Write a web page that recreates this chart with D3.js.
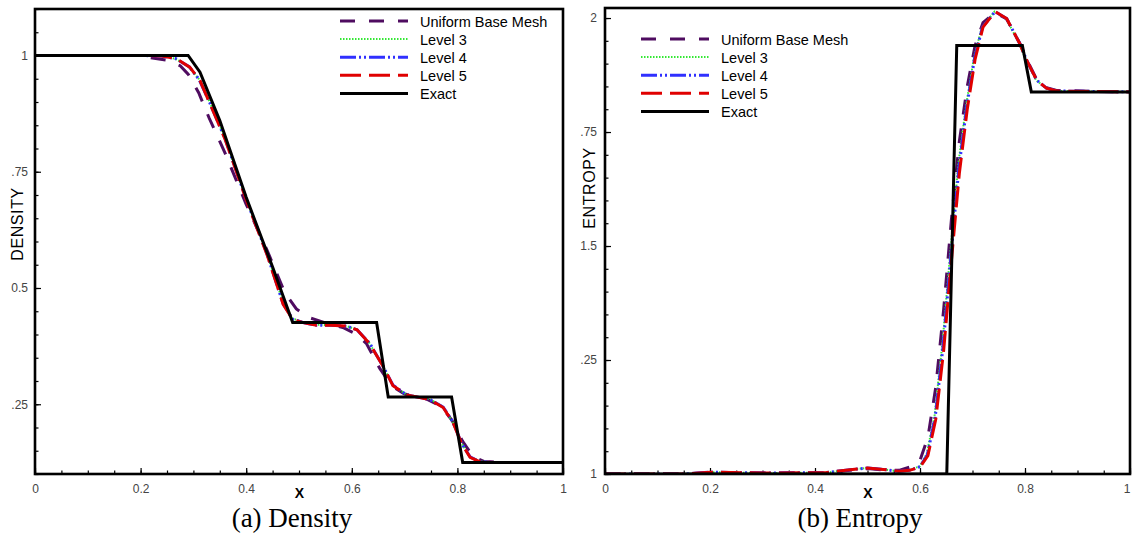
<!DOCTYPE html>
<html>
<head>
<meta charset="utf-8">
<script src="https://cdn.jsdelivr.net/npm/d3@7/dist/d3.min.js"></script>
<style>
    body { margin: 0; background: #fff; }
    svg { display: block; }
</style>
</head>
<body>
<svg id="chart" width="1132" height="536"></svg>
<script>
// ---- data ----
const seriesNames = ["Uniform Base Mesh", "Level 3", "Level 4", "Level 5", "Exact"];

const xTicks = [0, 0.2, 0.4, 0.6, 0.8, 1];
const xTickLabels = ["0", "0.2", "0.4", "0.6", "0.8", "1"];

const densTicks = [0.25, 0.5, 0.75, 1];
const densTickLabels = [".25", "0.5", ".75", "1"];
const entTicks = [1, 1.25, 1.5, 1.75, 2];
const entTickLabels = ["1", ".25", "1.5", ".75", "2"];

// density profiles [x, rho]
const densUniform = [[0,1],[0.2,1],[0.215,0.996],[0.25,0.99],[0.275,0.978],[0.29,0.96],[0.31,0.92],[0.33,0.865],[0.36,0.79],[0.4,0.68],[0.44,0.58],[0.473,0.49],[0.495,0.455],[0.517,0.437],[0.55,0.425],[0.583,0.415],[0.61,0.4],[0.628,0.38],[0.653,0.327],[0.675,0.29],[0.7,0.272],[0.74,0.262],[0.77,0.245],[0.79,0.215],[0.81,0.17],[0.83,0.137],[0.85,0.127],[0.88,0.125],[1,0.125]];
const densLevel3 = [[0,1],[0.2,1],[0.24,0.999],[0.266,0.993],[0.29,0.977],[0.31,0.95],[0.33,0.902],[0.36,0.822],[0.4,0.692],[0.44,0.572],[0.47,0.468],[0.488,0.434],[0.51,0.426],[0.533,0.421],[0.56,0.42],[0.59,0.418],[0.61,0.41],[0.633,0.382],[0.658,0.334],[0.677,0.292],[0.703,0.271],[0.748,0.261],[0.772,0.245],[0.791,0.212],[0.807,0.168],[0.823,0.138],[0.842,0.127],[0.87,0.125],[1,0.125]];
const densLevel4 = [[0,1],[0.2,1],[0.24,0.999],[0.267,0.993],[0.292,0.976],[0.311,0.948],[0.33,0.901],[0.36,0.821],[0.4,0.691],[0.44,0.571],[0.47,0.466],[0.488,0.433],[0.51,0.425],[0.533,0.42],[0.56,0.42],[0.59,0.418],[0.61,0.41],[0.634,0.381],[0.659,0.332],[0.678,0.291],[0.704,0.27],[0.748,0.26],[0.773,0.244],[0.792,0.211],[0.808,0.166],[0.824,0.137],[0.843,0.126],[0.87,0.125],[1,0.125]];
const densLevel5 = [[0,1],[0.2,1],[0.24,0.999],[0.268,0.993],[0.293,0.975],[0.3125,0.946],[0.33,0.9],[0.36,0.82],[0.4,0.69],[0.44,0.57],[0.47,0.465],[0.488,0.432],[0.51,0.425],[0.533,0.42],[0.56,0.42],[0.59,0.418],[0.61,0.41],[0.634,0.38],[0.66,0.33],[0.678,0.29],[0.704,0.27],[0.748,0.26],[0.773,0.243],[0.792,0.21],[0.808,0.165],[0.824,0.136],[0.843,0.126],[0.87,0.125],[1,0.125]];
const densExact = [[0,1],[0.29,1],[0.3125,0.964],[0.35,0.86],[0.4,0.695],[0.45,0.545],[0.488,0.426],[0.647,0.426],[0.669,0.2656],[0.789,0.2656],[0.81,0.125],[1,0.125]];

// entropy profiles [x, s]
const entUniform = [[0,1],[0.15,1],[0.2,1.003],[0.3,1.002],[0.42,1.003],[0.45,1.006],[0.48,1.01],[0.5,1.012],[0.53,1.009],[0.56,1.008],[0.58,1.015],[0.6,1.03],[0.615,1.08],[0.63,1.19],[0.645,1.36],[0.66,1.56],[0.675,1.73],[0.69,1.85],[0.705,1.94],[0.72,1.99],[0.743,2.012],[0.765,1.998],[0.79,1.945],[0.805,1.905],[0.822,1.866],[0.841,1.847],[0.86,1.841],[1,1.838]];
const entLevel3 = [[0,1],[0.15,1],[0.2,1.004],[0.3,1.002],[0.42,1.003],[0.45,1.007],[0.48,1.011],[0.5,1.013],[0.53,1.01],[0.56,1.006],[0.58,1.009],[0.6,1.017],[0.613,1.045],[0.628,1.13],[0.643,1.29],[0.658,1.49],[0.673,1.68],[0.688,1.81],[0.703,1.915],[0.718,1.98],[0.742,2.014],[0.764,1.999],[0.789,1.944],[0.802,1.908],[0.821,1.864],[0.84,1.846],[0.86,1.84],[1,1.838]];
const entLevel4 = [[0,1],[0.15,1],[0.2,1.004],[0.3,1.002],[0.42,1.003],[0.45,1.007],[0.48,1.011],[0.5,1.013],[0.53,1.01],[0.56,1.006],[0.58,1.008],[0.6,1.016],[0.614,1.042],[0.629,1.125],[0.644,1.28],[0.659,1.48],[0.674,1.67],[0.689,1.805],[0.704,1.912],[0.719,1.98],[0.743,2.014],[0.765,1.999],[0.79,1.944],[0.803,1.908],[0.822,1.864],[0.841,1.846],[0.86,1.84],[1,1.838]];
const entLevel5 = [[0,1],[0.15,1],[0.2,1.004],[0.3,1.002],[0.42,1.003],[0.45,1.007],[0.48,1.011],[0.5,1.013],[0.53,1.01],[0.56,1.006],[0.58,1.008],[0.6,1.015],[0.615,1.04],[0.63,1.12],[0.645,1.27],[0.66,1.47],[0.675,1.66],[0.69,1.8],[0.705,1.91],[0.72,1.98],[0.743,2.014],[0.765,1.999],[0.79,1.944],[0.803,1.908],[0.822,1.864],[0.841,1.846],[0.86,1.84],[1,1.838]];
const entExact = [[0,1],[0.651,1],[0.67,1.94],[0.795,1.94],[0.812,1.838],[1,1.838]];

// ---- line styles for the five series ----
const lineStyles = [
    { color: "#4f0c60", width: 3, dash: "15,14" },
    { color: "#33e833", width: 2, dash: "1.5,1.5" },
    { color: "#3030ff", width: 3, dash: "16,3,2,3,2,3" },
    { color: "#e00000", width: 3, dash: "21,8" },
    { color: "#000000", width: 3, dash: null }
];

const svg = d3.select("#chart");

// Draws one framed profile panel with its legend
function drawPanel(cfg) {
    const g = svg.append("g");

    const x = d3.scaleLinear().domain([0, 1]).range([cfg.left, cfg.right]);
    const y = d3.scaleLinear().domain(cfg.yDomain).range([cfg.bottom, cfg.top]);

    // minor ticks (pointing inward)
    g.append("g")
        .attr("transform", `translate(0,${cfg.bottom})`)
        .call(d3.axisBottom(x).tickValues(d3.range(0, 1.0001, 0.05)).tickSize(-3.5).tickFormat(""))
        .call(a => a.select(".domain").remove());
    g.append("g")
        .attr("transform", `translate(${cfg.left},0)`)
        .call(d3.axisLeft(y).tickValues(d3.range(cfg.yMinorStart, cfg.yMinorEnd + 0.0001, 0.05)).tickSize(-3.5).tickFormat(""))
        .call(a => a.select(".domain").remove());

    // major ticks with labels
    const xAxis = g.append("g")
        .attr("transform", `translate(0,${cfg.bottom})`)
        .call(d3.axisBottom(x).tickValues(xTicks).tickSize(-6).tickPadding(10)
            .tickFormat((d, i) => xTickLabels[i]));
    const yAxis = g.append("g")
        .attr("transform", `translate(${cfg.left},0)`)
        .call(d3.axisLeft(y).tickValues(cfg.yTicks).tickSize(-6).tickPadding(cfg.yPad)
            .tickFormat((d, i) => cfg.yLabels[i]));
    [xAxis, yAxis].forEach(a => {
        a.select(".domain").remove();
        a.selectAll("text").attr("font-family", "Liberation Sans, Arial, sans-serif")
            .attr("font-size", 12).attr("fill", "#444");
    });
    // keep the last x label inside the page
    if (cfg.lastLabelEnd) {
        xAxis.selectAll(".tick").filter(d => d === 1).select("text")
            .attr("text-anchor", "end").attr("x", 0);
    }
    g.selectAll(".tick line").attr("stroke", "#000").attr("stroke-width", 1.2);

    // clip the curves to the frame
    g.append("clipPath").attr("id", cfg.id)
        .append("rect")
        .attr("x", cfg.left).attr("y", cfg.top)
        .attr("width", cfg.right - cfg.left).attr("height", cfg.bottom - cfg.top);

    const line = d3.line().x(d => x(d[0])).y(d => y(d[1]));

    g.append("g").attr("clip-path", `url(#${cfg.id})`)
        .selectAll("path.curve")
        .data(cfg.series)
        .join("path")
        .attr("class", "curve")
        .attr("d", line)
        .attr("fill", "none")
        .attr("stroke", (d, i) => lineStyles[i].color)
        .attr("stroke-width", (d, i) => lineStyles[i].width)
        .attr("stroke-dasharray", (d, i) => lineStyles[i].dash);

    // frame
    g.append("rect")
        .attr("x", cfg.left).attr("y", cfg.top)
        .attr("width", cfg.right - cfg.left).attr("height", cfg.bottom - cfg.top)
        .attr("fill", "none").attr("stroke", "#000").attr("stroke-width", 2.6);

    // axis titles
    g.append("text")
        .attr("x", (cfg.left + cfg.right) / 2 + 0.5).attr("y", 498)
        .attr("text-anchor", "middle")
        .attr("font-family", "Liberation Sans, Arial, sans-serif")
        .attr("font-size", 14).attr("font-weight", "bold")
        .text("X");
    g.append("text")
        .attr("transform", `translate(${cfg.yTitleX},${cfg.yTitleY}) rotate(-90)`)
        .attr("text-anchor", "middle")
        .attr("font-family", "Liberation Sans, Arial, sans-serif")
        .attr("font-size", 16).attr("letter-spacing", 0.6)
        .text(cfg.yTitle);

    // caption below the panel
    g.append("text")
        .attr("x", cfg.captionX).attr("y", 527)
        .attr("text-anchor", "middle")
        .attr("font-family", "Liberation Serif, Times New Roman, serif")
        .attr("font-size", 27)
        .text(cfg.caption);

    // legend
    const legend = g.append("g")
        .selectAll("g")
        .data(seriesNames)
        .join("g")
        .attr("transform", (d, i) => `translate(0,${cfg.legendY + i * 18.1})`);
    legend.append("line")
        .attr("x1", cfg.legendX).attr("x2", cfg.legendX + 68)
        .attr("stroke", (d, i) => lineStyles[i].color)
        .attr("stroke-width", (d, i) => lineStyles[i].width)
        .attr("stroke-dasharray", (d, i) => lineStyles[i].dash);
    legend.append("text")
        .attr("x", cfg.legendX + 80).attr("y", 5.5)
        .attr("font-family", "Liberation Sans, Arial, sans-serif")
        .attr("font-size", 14.5)
        .text(d => d);
}

drawPanel({
    id: "clipDens", left: 35, right: 563, top: 9, bottom: 474,
    yDomain: [0.1, 1.1], yMinorStart: 0.1, yMinorEnd: 1.1,
    yTicks: densTicks, yLabels: densTickLabels, yPad: 7,
    yTitle: "DENSITY", yTitleX: 23, yTitleY: 224,
    caption: "(a) Density", captionX: 292,
    legendX: 340, legendY: 21,
    series: [densUniform, densLevel3, densLevel4, densLevel5, densExact]
});

drawPanel({
    id: "clipEnt", left: 605, right: 1130, top: 8, bottom: 474,
    yDomain: [1, 2.022], yMinorStart: 1, yMinorEnd: 2.0,
    yTicks: entTicks, yLabels: entTickLabels, yPad: 8,
    yTitle: "ENTROPY", yTitleX: 595, yTitleY: 188,
    caption: "(b) Entropy", captionX: 860,
    legendX: 641, legendY: 39, lastLabelEnd: true,
    series: [entUniform, entLevel3, entLevel4, entLevel5, entExact]
});
</script>
</body>
</html>
